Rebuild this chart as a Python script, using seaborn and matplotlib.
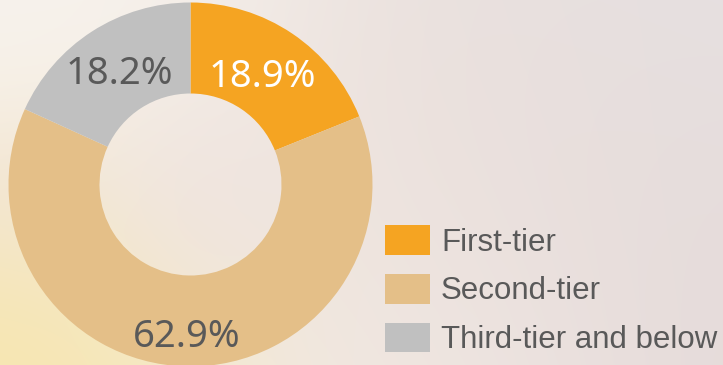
import numpy as np
import matplotlib
matplotlib.use("Agg")
import matplotlib.pyplot as plt
from matplotlib.patches import Patch
from matplotlib.colors import to_rgb
import seaborn as sns

# ---- data ----
categories = ["First-tier", "Second-tier", "Third-tier and below"]
shares = [18.9, 62.9, 18.2]
labels = ["18.9%", "62.9%", "18.2%"]

# ---- style ----
colors = sns.color_palette(["#F5A422", "#E4BF88", "#C0C0C0"])
label_colors = ["#FFFFFF", "#595959", "#595959"]
label_dist = [0.71, 0.84, 0.72]

sns.set_style("white")
plt.rcParams["font.family"] = ["Liberation Sans", "DejaVu Sans"]

W, H = 723, 365
fig = plt.figure(figsize=(W / 100, H / 100), dpi=100)

# background gradient
bg = fig.add_axes([0, 0, 1, 1], zorder=0)
yy, xx = np.mgrid[0:H, 0:W].astype(float)
blobs = [
    ((60, 40), 190, "#F8F4F0", 1.0),
    ((700, 20), 230, "#E6E3E5", 1.0),
    ((0, 365), 110, "#F6E2A0", 1.4),
    ((60, 365), 170, "#F8ECC4", 0.6),
    ((430, 330), 150, "#F4EDE9", 0.8),
    ((700, 260), 170, "#E3D6D5", 0.9),
    ((450, 160), 170, "#EBDDD6", 0.9),
    ((190, 200), 70, "#EBDDE0", 0.8),
    ((20, 200), 60, "#EAD6D2", 0.5),
]
num = np.zeros((H, W, 3))
den = np.full((H, W), 0.05)
num += den[..., None] * np.array(to_rgb("#EBDFDB"))
for (bx, by), s, c, a in blobs:
    w = a * np.exp(-((xx - bx) ** 2 + (yy - by) ** 2) / (2 * s * s))
    num += w[..., None] * np.array(to_rgb(c))
    den += w
img = num / den[..., None]
bg.imshow(img, extent=[0, W, H, 0], aspect="auto", interpolation="bilinear")
bg.set_axis_off()

# donut axes: center (190.5, 184.5) px, outer radius 182 px
cx, cy, R = 190.5, 184.5, 182
ax = fig.add_axes([(cx - R) / W, (H - cy - R) / H, 2 * R / W, 2 * R / H], zorder=1)
ax.patch.set_alpha(0)
wedges, _ = ax.pie(
    shares,
    colors=colors,
    startangle=90,
    counterclock=False,
    radius=1.0,
    wedgeprops=dict(width=0.5, linewidth=0),
)
for wdg, lab, lc, d in zip(wedges, labels, label_colors, label_dist):
    ang = np.deg2rad((wdg.theta1 + wdg.theta2) / 2)
    ax.text(d * np.cos(ang), d * np.sin(ang), lab, ha="center", va="center",
            fontsize=27.5, color=lc, family=["Noto Sans", "DejaVu Sans"])
ax.set_xlim(-1, 1)
ax.set_ylim(-1, 1)
ax.set_aspect("equal")
ax.set_axis_off()

handles = [Patch(facecolor=c, edgecolor="none") for c in colors]
leg = fig.legend(
    handles, categories,
    loc="upper left", bbox_to_anchor=(385 / W, 1 - 225 / H),
    frameon=False, fontsize=22.5, labelcolor="#595959",
    handlelength=1.44, handleheight=1.09, handletextpad=0.35,
    labelspacing=0.52, borderpad=0, borderaxespad=0,
)

fig.savefig("out.png", dpi=100)
